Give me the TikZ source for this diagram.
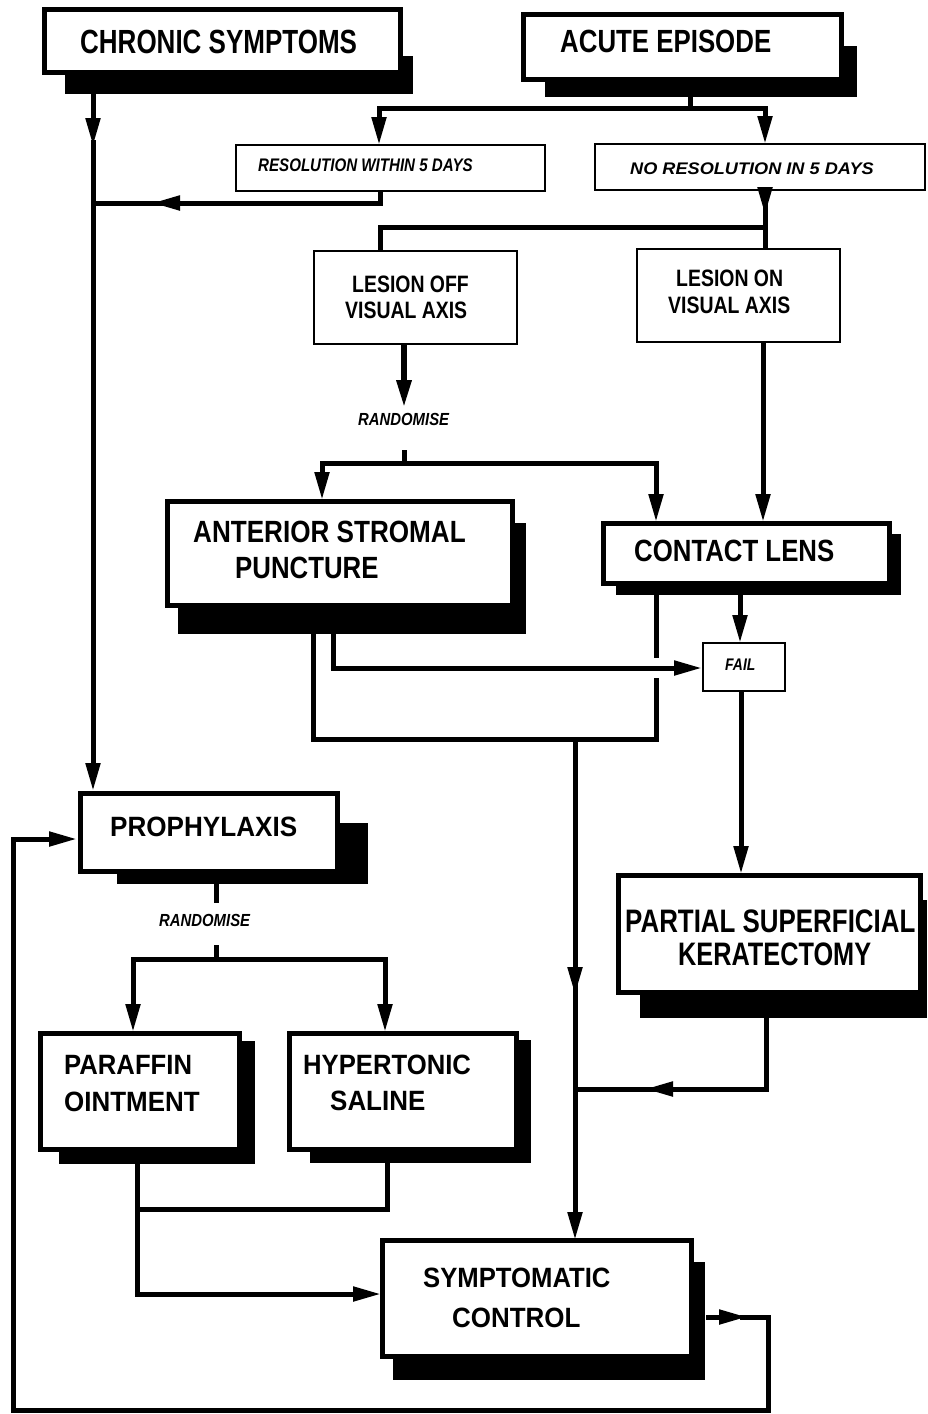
\documentclass[tikz,border=0pt]{standalone}
\usepackage{fontspec}
\usepackage{graphicx}
\setmainfont{Liberation Sans}
\usetikzlibrary{arrows.meta}
\newcommand{\bt}[3]{{\fontsize{#1pt}{#1pt}\selectfont\bfseries\scalebox{#2}[1]{#3}}}
\newcommand{\bi}[3]{{\fontsize{#1pt}{#1pt}\selectfont\bfseries\itshape\scalebox{#2}[1]{#3}}}
\begin{document}
\begin{tikzpicture}[x=1pt,y=-1pt,
  thickbox/.style={draw,fill=white,line width=5pt,inner sep=0pt,rectangle},
  thinbox/.style={draw,fill=white,line width=2pt,inner sep=0pt,rectangle},
  shade/.style={fill=black,draw=none,inner sep=0pt,rectangle},
  conn/.style={line width=5pt},
  arr/.style={conn,-{Triangle[length=28pt,width=14pt]}},
  arrtwo/.style={conn,{Triangle[length=28pt,width=14pt]}-{Triangle[length=28pt,width=14pt]}},
  txt/.style={anchor=base west,inner sep=0pt}]
\fill[white] (0,0) rectangle (927,1414);
\useasboundingbox (0,0) rectangle (927,1414);

% ---- shadows ----
\node[shade,minimum width=348pt,minimum height=38pt] (chronicsh) at (239,75) {};
\node[shade,minimum width=312pt,minimum height=51pt] (acutesh) at (701,71.5) {};
\node[shade,minimum width=348pt,minimum height=111pt] (antsh) at (352,578.5) {};
\node[shade,minimum width=285pt,minimum height=61pt] (contactsh) at (758.5,564.5) {};
\node[shade,minimum width=251pt,minimum height=61pt] (prophsh) at (242.5,853.5) {};
\node[shade,minimum width=287pt,minimum height=118pt] (psksh) at (783.5,959) {};
\node[shade,minimum width=196pt,minimum height=123pt] (parash) at (157,1102.5) {};
\node[shade,minimum width=221pt,minimum height=123pt] (hypersh) at (420.5,1101.5) {};
\node[shade,minimum width=312pt,minimum height=118pt] (sympsh) at (549,1321) {};

% ---- boxes ----
\node[thickbox,minimum width=356pt,minimum height=63pt] (chronic) at (222.5,41) {};
\node[thickbox,minimum width=318pt,minimum height=65pt] (acute) at (682.5,47) {};
\node[thinbox,minimum width=309pt,minimum height=46pt] (res) at (390.5,168) {};
\node[thinbox,minimum width=330pt,minimum height=46pt] (nores) at (760,167) {};
\node[thinbox,minimum width=203pt,minimum height=93pt] (lesoff) at (415.5,297.5) {};
\node[thinbox,minimum width=203pt,minimum height=93pt] (leson) at (738.5,295.5) {};
\node[thickbox,minimum width=345pt,minimum height=104pt] (ant) at (340,553.5) {};
\node[thickbox,minimum width=286pt,minimum height=60pt] (contact) at (746.5,553.5) {};
\node[thinbox,minimum width=82pt,minimum height=48pt] (fail) at (744,667) {};
\node[thickbox,minimum width=257pt,minimum height=78pt] (proph) at (209,832.5) {};
\node[thickbox,minimum width=302pt,minimum height=117pt] (psk) at (769.5,934) {};
\node[thickbox,minimum width=199pt,minimum height=116pt] (para) at (140,1091.5) {};
\node[thickbox,minimum width=227pt,minimum height=116pt] (hyper) at (403,1091.5) {};
\node[thickbox,minimum width=309pt,minimum height=116pt] (symp) at (537,1298.5) {};

% ---- texts ----
\node[txt] (tchronic) at (80,53) {\bt{33.5}{0.776}{CHRONIC SYMPTOMS}};
\node[txt] (tacute) at (560,52) {\bt{32.1}{0.805}{ACUTE EPISODE}};
\node[txt] (tres) at (258,171) {\bi{18.2}{0.83}{RESOLUTION WITHIN 5 DAYS}};
\node[txt] (tnores) at (630,174) {\bi{16.8}{1.08}{NO RESOLUTION IN 5 DAYS}};
\node[txt] (tlesoffa) at (352,292) {\bt{23.7}{0.82}{LESION OFF}};
\node[txt] (tlesoffb) at (345,318) {\bt{23.7}{0.82}{VISUAL AXIS}};
\node[txt] (tlesona) at (676,286) {\bt{23.7}{0.82}{LESION ON}};
\node[txt] (tlesonb) at (668,313) {\bt{23.7}{0.82}{VISUAL AXIS}};
\node[txt] (trand1) at (358,425) {\bi{17.5}{0.85}{RANDOMISE}};
\node[txt] (tanta) at (193,542) {\bt{30.7}{0.85}{ANTERIOR STROMAL}};
\node[txt] (tantb) at (235,578) {\bt{30.7}{0.84}{PUNCTURE}};
\node[txt] (tcontact) at (634,561) {\bt{30.7}{0.84}{CONTACT LENS}};
\node[txt] (tfail) at (725,670) {\bi{16.8}{0.83}{FAIL}};
\node[txt] (tproph) at (110,836) {\bt{27.9}{0.935}{PROPHYLAXIS}};
\node[txt] (trand2) at (159,926) {\bi{17.5}{0.85}{RANDOMISE}};
\node[txt] (tpska) at (625,932) {\bt{32.5}{0.797}{PARTIAL SUPERFICIAL}};
\node[txt] (tpskb) at (678,965) {\bt{32.5}{0.778}{KERATECTOMY}};
\node[txt] (tparaa) at (64,1074) {\bt{27.9}{0.92}{PARAFFIN}};
\node[txt] (tparab) at (64,1111) {\bt{27.9}{0.93}{OINTMENT}};
\node[txt] (thypera) at (303,1074) {\bt{27.9}{0.92}{HYPERTONIC}};
\node[txt] (thyperb) at (330,1110) {\bt{27.9}{0.93}{SALINE}};
\node[txt] (tsympa) at (423,1287) {\bt{27.9}{0.92}{SYMPTOMATIC}};
\node[txt] (tsympb) at (452,1327) {\bt{27.9}{0.93}{CONTROL}};

% ---- connectors ----
% chronic -> prophylaxis
\coordinate (cS) at (93,94);
\draw[arr] (cS) -- (93,146);
\draw[arr] (93,140) -- (cS |- proph.north);
% acute -> two outcomes
\coordinate (aS) at (690,97);
\coordinate (aJ) at (690,108);
\draw[conn] (aS) -- (aJ);
\draw[arrtwo] (379,145) -- (379,108) -- (765,108) -- (765,144);
% resolution -> chronic line
\draw[conn] (380,191) -- (380,203) -- (93,203);
\draw[arr] (200,203) -- (152,203);
% no resolution -> lesions
\draw[conn] (765,190) -- (765,249);
\draw[arr] (765,190) -- (765,215);
\draw[conn] (765,227) -- (380,227) -- (380,251);
% lesion off -> randomise
\draw[arr,line width=6pt] (404,344) -- (404,408);
\draw[conn] (404,450) -- (404,463);
\draw[arrtwo] (322,500) -- (322,463) -- (656,463) -- (656,522);
% lesion on -> contact lens
\draw[arr] (763,342) -- (763,522);
% contact lens -> fail
\draw[arr] (740,595) -- (740,643);
% anterior stromal puncture -> fail
\draw[arr] (333,634) -- (333,668) -- (702,668);
% contact lens / ASP -> symptomatic control
\draw[conn] (656,595) -- (656,658);
\draw[conn] (656,678) -- (656,739) -- (313,739) -- (313,634);
\draw[arr] (575,739) -- (575,1240);
\draw[arr] (575,950) -- (575,995);
% fail -> PSK
\draw[arr] (741,692) -- (741,874);
% PSK -> junction
\draw[conn] (766,1018) -- (766,1089) -- (575,1089);
\draw[arr] (700,1089) -- (645,1089);
% prophylaxis -> randomise -> treatments
\draw[conn] (216,884) -- (216,903);
\draw[conn] (216,945) -- (216,959);
\draw[arrtwo] (133,1032) -- (133,959) -- (385,959) -- (385,1032);
% treatments -> symptomatic control
\draw[conn] (137,1209) -- (387,1209) -- (387,1163);
\draw[arr] (137,1164) -- (137,1294) -- (381,1294);
% symptomatic control -> loop back to prophylaxis
\draw[arr] (706,1317) -- (747,1317);
\draw[arr] (740,1317) -- (768,1317) -- (768,1410) -- (13,1410) -- (13,839) -- (77,839);
\end{tikzpicture}
\end{document}
